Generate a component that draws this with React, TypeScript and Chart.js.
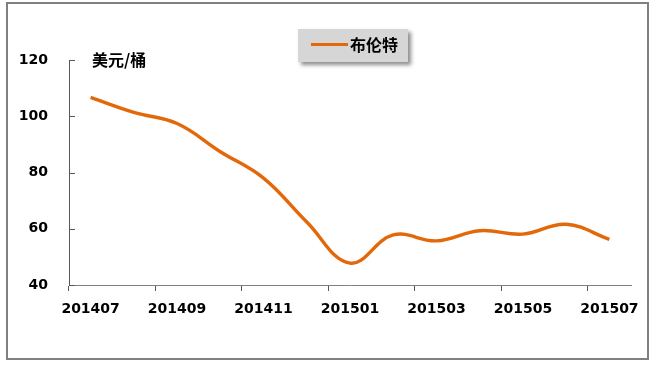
import React, { useEffect, useRef } from "react";
import { Chart, registerables } from "chart.js";

Chart.register(...registerables);

const categories = [
  "201407", "201408", "201409", "201410", "201411", "201412",
  "201501", "201502", "201503", "201504", "201505", "201506", "201507",
];
const brentValues = [106.7, 101.4, 97.4, 87.4, 78.0, 62.4, 47.8, 57.8, 55.7, 59.3, 58.1, 61.6, 56.2];
const yTicks = [40, 60, 80, 100, 120];
const seriesName = "布伦特";
const unitLabel = "美元/桶";
const lineColor = "#E3680A";

const decorPlugin = {
  id: "decor",
  beforeDraw(chart: any) {
    const ctx = chart.ctx;
    ctx.save();
    ctx.fillStyle = "#ffffff";
    ctx.fillRect(0, 0, chart.width, chart.height);
    ctx.strokeStyle = "#808080";
    ctx.lineWidth = 2;
    ctx.strokeRect(7, 3, 641, 356);
    ctx.restore();
  },
  afterDraw(chart: any) {
    const ctx = chart.ctx;
    const y = chart.scales.y;
    const area = chart.chartArea;
    ctx.save();
    // inner y ticks
    ctx.strokeStyle = "#595959";
    ctx.lineWidth = 1;
    yTicks.forEach((v) => {
      const py = Math.round(y.getPixelForValue(v)) + 0.5;
      ctx.beginPath();
      ctx.moveTo(area.left, py);
      ctx.lineTo(area.left + 6, py);
      ctx.stroke();
    });
    // unit label
    ctx.fillStyle = "#000000";
    ctx.font = "bold 16px 'Noto Sans CJK SC'";
    ctx.textBaseline = "middle";
    ctx.textAlign = "left";
    ctx.fillText(unitLabel, 92, 60);
    // legend box
    ctx.save();
    ctx.shadowColor = "rgba(0,0,0,0.45)";
    ctx.shadowBlur = 4;
    ctx.shadowOffsetX = 3;
    ctx.shadowOffsetY = 3;
    ctx.fillStyle = "#D6D6D6";
    ctx.fillRect(298, 29, 110, 33);
    ctx.restore();
    ctx.strokeStyle = lineColor;
    ctx.lineWidth = 3;
    ctx.beginPath();
    ctx.moveTo(311, 44.5);
    ctx.lineTo(348, 44.5);
    ctx.stroke();
    ctx.fillStyle = "#000000";
    ctx.font = "bold 16px 'Noto Sans CJK SC'";
    ctx.fillText(seriesName, 350, 45);
    ctx.restore();
  },
};

export default function App() {
  const ref = useRef<HTMLCanvasElement>(null);
  useEffect(() => {
    document.body.style.margin = "0";
    const chart = new Chart(ref.current!, {
      type: "line",
      data: {
        labels: categories,
        datasets: [
          {
            label: seriesName,
            data: brentValues,
            borderColor: lineColor,
            borderWidth: 3.4,
            pointRadius: 0,
            tension: 0.4,
            fill: false,
          },
        ],
      },
      options: {
        animation: false,
        responsive: false,
        maintainAspectRatio: false,
        layout: { padding: { left: 0, top: 60, right: 29, bottom: 0 } },
        plugins: { legend: { display: false }, tooltip: { enabled: false } },
        scales: {
          x: {
            type: "category",
            offset: true,
            afterFit: (s: any) => { s.height = 82; },
            grid: {
              offset: true,
              drawOnChartArea: false,
              drawTicks: true,
              tickLength: 6,
              color: (c: any) => (c.index !== undefined && c.index % 2 === 0 ? "#595959" : "rgba(0,0,0,0)"),
            },
            border: { display: true, color: "#808080", width: 1 },
            ticks: {
              autoSkip: false,
              maxRotation: 0,
              padding: 10,
              color: "#000000",
              font: { family: "DejaVu Sans", size: 14, weight: "bold" },
              callback: (_v: any, i: number) => (i % 2 === 0 ? categories[i] : ""),
            },
          },
          y: {
            min: 40,
            max: 120,
            afterFit: (s: any) => { s.width = 69; },
            afterBuildTicks: (s: any) => { s.ticks = yTicks.map((v) => ({ value: v })); },
            grid: { display: false, drawTicks: false },
            border: { display: true, color: "#595959", width: 1 },
            ticks: {
              padding: 21,
              color: "#000000",
              font: { family: "DejaVu Sans", size: 14, weight: "bold" },
            },
          },
        },
      },
      plugins: [decorPlugin],
    });
    return () => chart.destroy();
  }, []);
  return (
    <div style={{ width: 660, height: 367 }}>
      <canvas ref={ref} width={660} height={367} style={{ display: "block", width: 660, height: 367 }} />
    </div>
  );
}
